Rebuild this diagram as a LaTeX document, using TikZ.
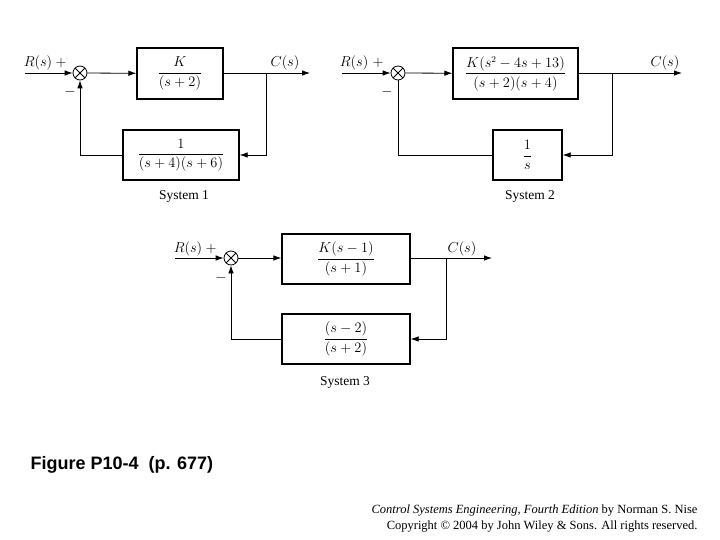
\documentclass[tikz,border=0pt]{standalone}
\usepackage{amsmath}
\usepackage{fontspec}
\setmainfont{Liberation Serif}
\newfontfamily\sansf{Liberation Sans}
\usetikzlibrary{arrows.meta}
\begin{document}
\begin{tikzpicture}[x=1pt,y=-1pt,
  blk/.style={draw,line width=1.3pt,inner sep=0pt},
  sum/.style={draw,circle,line width=0.8pt,minimum size=14pt,inner sep=0pt,
    path picture={\draw[line width=0.8pt] (path picture bounding box.north west)--(path picture bounding box.south east)
      (path picture bounding box.north east)--(path picture bounding box.south west);}},
  sig/.style={line width=0.8pt,-{Latex[length=8pt,width=5.5pt]}},
  ln/.style={line width=0.8pt},
  every node/.append style={font=\fontsize{13.5}{15}\selectfont}]
\useasboundingbox (0,0) rectangle (720,540);
% System 1
\coordinate (r1) at (25,73);
\node[sum] (s1) at (80,73) {};
\node[blk,minimum width=86pt,minimum height=51pt] (g1) at (180,73.5) {$\dfrac{K}{(s+2)}$};
\node[blk,minimum width=116pt,minimum height=50pt] (h1) at (181,155) {$\dfrac{1}{(s+4)(s+6)}$};
\coordinate (b1) at (266,73);
\coordinate (o1) at (310,73);
\draw[sig] (r1)--(s1);
\draw[sig] (s1)--(g1);
\draw[sig] (g1.east|-b1)--(o1);
\draw[sig] (b1)|-(h1.east);
\draw[sig] (h1.west)-|(s1.south);
\node at (38,63) {$R(s)$};
\node at (61,63) {$+$};
\node at (70,92) {$-$};
\node at (285,63) {$C(s)$};
\node at (184,196) {System 1};
% System 2
\coordinate (r2) at (342,73);
\node[sum] (s2) at (398,73) {};
\node[blk,minimum width=125pt,minimum height=51pt] (g2) at (515.5,73.5) {$\dfrac{K(s^2-4s+13)}{(s+2)(s+4)}$};
\node[blk,minimum width=69pt,minimum height=50pt] (h2) at (527.5,155) {$\dfrac{1}{s}$};
\coordinate (b2) at (612,73);
\coordinate (o2) at (682,73);
\draw[sig] (r2)--(s2);
\draw[sig] (s2)--(g2);
\draw[sig] (g2.east|-b2)--(o2);
\draw[sig] (b2)|-(h2.east);
\draw[ln] (h2.west)-|(s2.south);
\node at (354,63) {$R(s)$};
\node at (378,63) {$+$};
\node at (387,92) {$-$};
\node at (665,63) {$C(s)$};
\node at (530,196) {System 2};
% System 3
\coordinate (r3) at (175,258);
\node[sum] (s3) at (231,258) {};
\node[blk,minimum width=128pt,minimum height=50pt] (g3) at (346,259) {$\dfrac{K(s-1)}{(s+1)}$};
\node[blk,minimum width=128pt,minimum height=50pt] (h3) at (346,339) {$\dfrac{(s-2)}{(s+2)}$};
\coordinate (b3) at (446,258);
\coordinate (o3) at (492,258);
\draw[sig] (r3)--(s3);
\draw[sig] (s3)--(g3.west|-s3);
\draw[sig] (g3.east|-b3)--(o3);
\draw[sig] (b3)|-(h3.east);
\draw[sig] (h3.west)-|(s3.south);
\node at (188,249) {$R(s)$};
\node at (211,249) {$+$};
\node at (221,278) {$-$};
\node at (462,249) {$C(s)$};
\node at (345,382) {System 3};
% captions
\node[anchor=west,font=\sansf\bfseries\fontsize{18}{21}\selectfont] (cap) at (27,465) {Figure P10-4\ \ (p. 677)};
\node[anchor=east,align=right,font=\fontsize{12.5}{16}\selectfont] (foot) at (701,519)
  {\textit{Control Systems Engineering, Fourth Edition} by Norman S. Nise\\Copyright \textcopyright{} 2004 by John Wiley \& Sons. All rights reserved.};
\end{tikzpicture}
\end{document}
